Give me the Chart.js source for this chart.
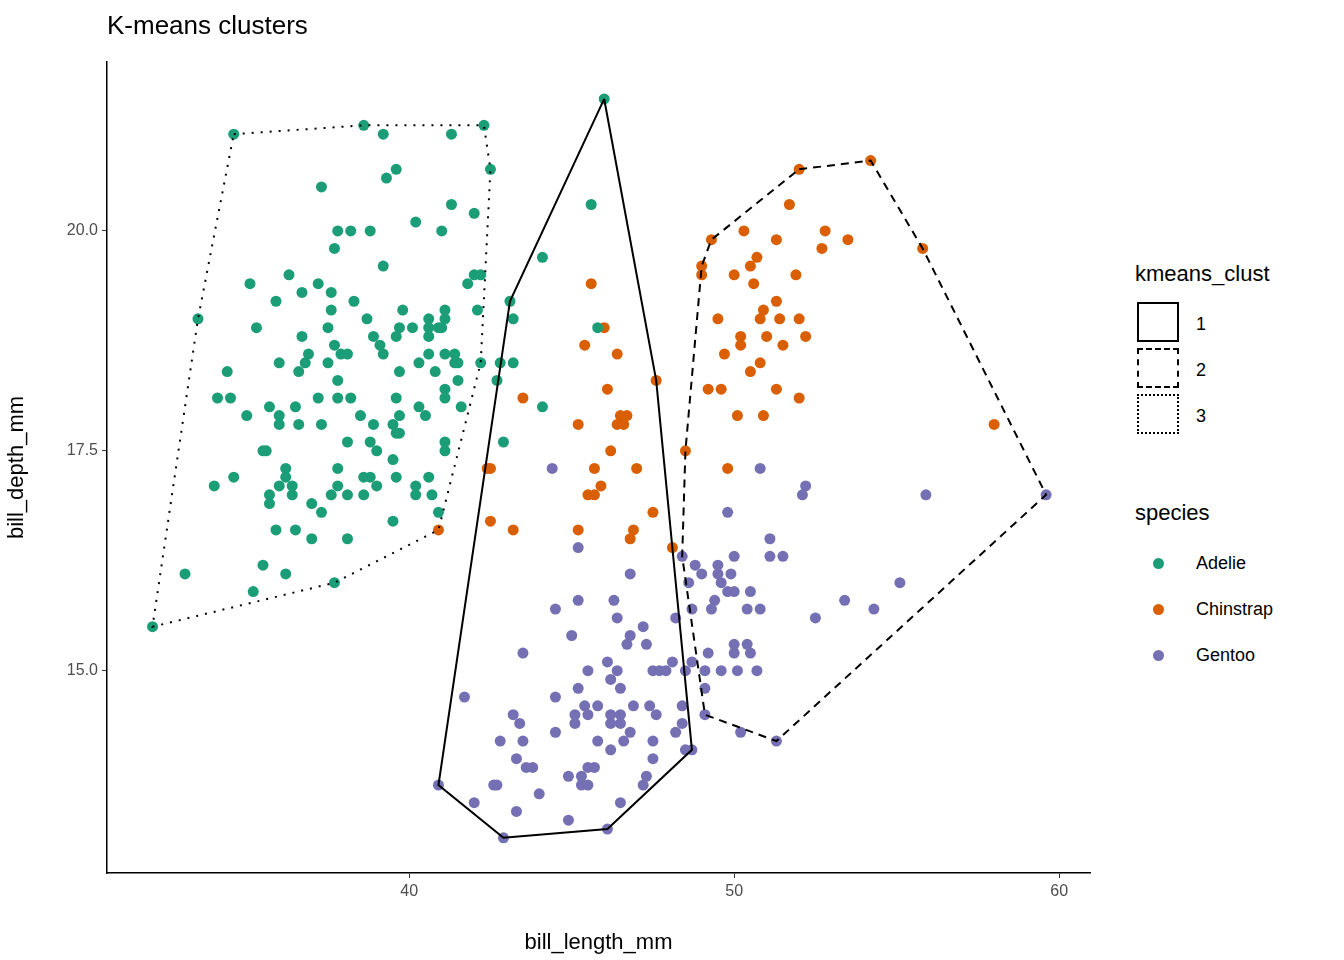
<!DOCTYPE html>
<html>
<head>
<meta charset="utf-8">
<script src="https://cdn.jsdelivr.net/npm/chart.js@4"></script>
<style>
  body { margin: 0; background: #fff; font-family: "Liberation Sans", Arial, sans-serif; }
  #wrap { position: relative; width: 1344px; height: 960px; }
  #chartBox { position: absolute; left: 0; top: 0; width: 1100px; height: 960px; }
  .title { position: absolute; left: 107px; top: 10px; font-size: 26px; color: #000; }
  .lgTitle { position: absolute; left: 1135px; font-size: 22px; color: #000; }
  .key { position: absolute; left: 1137px; width: 42px; height: 40px; box-sizing: border-box; border: 2px solid #000; }
  .lab { position: absolute; left: 1196px; font-size: 18px; color: #000; }
  .dot { position: absolute; left: 1153px; width: 11px; height: 11px; border-radius: 50%; }
</style>
</head>
<body>
<div id="wrap">
  <div id="chartBox"><canvas id="kmChart"></canvas></div>
  <div class="title">K-means clusters</div>
  <div class="lgTitle" style="top:261px">kmeans_clust</div>
  <div class="key" style="top:302px"></div>
  <div class="key" style="top:348px;border-style:dashed"></div>
  <div class="key" style="top:394px;border-style:dotted"></div>
  <div class="lab" style="top:314px">1</div>
  <div class="lab" style="top:360px">2</div>
  <div class="lab" style="top:406px">3</div>
  <div class="lgTitle" style="top:500px">species</div>
  <div class="dot" style="top:558px;background:#1B9E77"></div>
  <div class="dot" style="top:604px;background:#D95F02"></div>
  <div class="dot" style="top:650px;background:#7570B3"></div>
  <div class="lab" style="top:553px">Adelie</div>
  <div class="lab" style="top:599px">Chinstrap</div>
  <div class="lab" style="top:645px">Gentoo</div>
</div>
<script>
// bill_length_mm, bill_depth_mm
var adelie = [[34.6,21.1],[38.6,21.2],[39.2,21.1],[41.3,21.1],[42.3,21.2],[42.5,20.7],[39.6,20.7],[39.3,20.6],[37.3,20.5],[41.3,20.3],[42.0,20.2],[40.2,20.1],[37.8,20.0],[38.2,20.0],[38.8,20.0],[41.0,20.0],[37.7,19.8],[39.2,19.6],[36.3,19.5],[35.1,19.4],[37.2,19.4],[36.7,19.3],[37.6,19.3],[42.0,19.5],[42.2,19.5],[41.8,19.4],[35.9,19.2],[38.3,19.2],[37.6,19.1],[39.8,19.1],[41.1,19.1],[42.1,19.1],[33.5,19.0],[35.3,18.9],[37.5,18.9],[38.7,19.0],[39.7,18.9],[40.1,18.9],[40.6,19.0],[40.6,18.9],[40.9,18.9],[41.0,18.9],[41.1,19.0],[36.7,18.8],[38.9,18.8],[39.6,18.8],[40.6,18.8],[39.1,18.7],[37.7,18.7],[36.9,18.6],[37.9,18.6],[38.1,18.6],[39.2,18.6],[40.6,18.6],[41.1,18.6],[41.4,18.6],[36.0,18.5],[36.8,18.5],[37.5,18.5],[40.3,18.5],[41.4,18.5],[41.5,18.5],[42.2,18.5],[42.8,18.5],[43.2,18.5],[34.4,18.4],[36.6,18.4],[39.7,18.4],[40.8,18.4],[37.8,18.3],[41.5,18.3],[42.7,18.3],[41.1,18.2],[34.1,18.1],[34.5,18.1],[37.2,18.1],[37.8,18.1],[38.2,18.1],[39.6,18.1],[41.1,18.1],[35.7,18.0],[36.5,18.0],[40.3,18.0],[41.6,18.0],[35.0,17.9],[36.0,17.9],[38.5,17.9],[39.7,17.9],[40.5,17.9],[36.0,17.8],[36.6,17.8],[37.3,17.8],[38.9,17.8],[39.5,17.8],[39.6,17.7],[39.7,17.7],[38.1,17.6],[38.8,17.6],[41.1,17.6],[42.9,17.6],[35.5,17.5],[35.6,17.5],[39.0,17.5],[41.1,17.5],[39.5,17.4],[36.2,17.3],[37.8,17.3],[34.6,17.2],[36.2,17.2],[38.6,17.2],[38.8,17.2],[39.6,17.2],[40.6,17.2],[34.0,17.1],[36.0,17.1],[36.4,17.1],[37.8,17.1],[39.0,17.1],[40.2,17.1],[35.7,17.0],[36.4,17.0],[37.6,17.0],[38.1,17.0],[38.6,17.0],[40.2,17.0],[40.7,17.0],[35.7,16.9],[37.0,16.9],[37.3,16.8],[40.9,16.8],[39.5,16.7],[35.9,16.6],[36.5,16.6],[37.0,16.5],[38.1,16.5],[33.1,16.1],[35.5,16.2],[36.2,16.1],[35.2,15.9],[37.7,16.0],[32.1,15.5],[46.0,21.5],[45.6,20.3],[44.1,19.7],[43.1,19.2],[43.2,19.0],[45.8,18.9],[44.1,18.0]];
var chinstrap = [[45.6,19.4],[46.0,18.9],[45.4,18.7],[46.4,18.6],[47.6,18.3],[46.1,18.2],[43.5,18.1],[45.2,17.8],[46.5,17.9],[46.7,17.9],[46.4,17.8],[46.6,17.8],[46.2,17.5],[48.5,17.5],[42.4,17.3],[42.5,17.3],[45.7,17.3],[47.0,17.3],[45.9,17.1],[45.5,17.0],[45.7,17.0],[47.5,16.8],[42.5,16.7],[43.2,16.6],[45.2,16.6],[46.9,16.6],[46.8,16.5],[40.9,16.6],[48.1,16.4],[52.0,20.7],[54.2,20.8],[51.7,20.3],[49.3,19.9],[50.3,20.0],[51.3,19.9],[52.8,20.0],[52.7,19.8],[53.5,19.9],[55.8,19.8],[50.7,19.7],[50.5,19.6],[49.0,19.6],[49.0,19.5],[50.0,19.5],[51.9,19.5],[50.6,19.4],[51.3,19.2],[50.9,19.1],[49.5,19.0],[50.8,19.0],[51.4,19.0],[52.0,19.0],[50.2,18.8],[51.0,18.8],[52.2,18.8],[50.2,18.7],[51.5,18.7],[49.7,18.6],[50.8,18.5],[50.5,18.4],[49.2,18.2],[49.6,18.2],[51.3,18.2],[52.0,18.1],[50.1,17.9],[50.9,17.9],[58.0,17.8],[49.8,17.3]];
var gentoo = [[44.4,17.3],[45.2,16.4],[48.4,16.3],[48.8,16.2],[50.8,17.3],[52.2,17.1],[52.1,17.0],[55.9,17.0],[59.6,17.0],[49.8,16.8],[51.1,16.5],[51.1,16.3],[51.5,16.3],[50.0,16.3],[49.5,16.2],[49.0,16.1],[49.5,16.1],[49.9,16.1],[48.6,16.0],[49.6,16.0],[55.1,16.0],[49.8,15.9],[50.0,15.9],[50.5,15.9],[49.4,15.8],[53.4,15.8],[48.7,15.7],[49.3,15.7],[50.4,15.7],[50.8,15.7],[54.3,15.7],[48.2,15.6],[52.5,15.6],[50.0,15.3],[50.4,15.3],[49.2,15.2],[50.0,15.2],[50.5,15.2],[48.1,15.1],[48.7,15.1],[48.5,15.0],[49.1,15.0],[49.6,15.0],[50.1,15.0],[50.7,15.0],[49.1,14.8],[48.4,14.6],[49.1,14.5],[48.4,14.4],[48.2,14.3],[50.2,14.3],[51.3,14.2],[48.5,14.1],[48.7,14.1],[46.8,16.1],[45.2,15.8],[46.3,15.8],[44.5,15.7],[46.4,15.6],[47.2,15.5],[45.0,15.4],[46.8,15.4],[46.7,15.3],[47.3,15.3],[43.5,15.2],[46.1,15.1],[45.5,15.0],[46.4,15.0],[47.5,15.0],[47.7,15.0],[47.9,15.0],[46.2,14.9],[45.2,14.8],[46.5,14.8],[41.7,14.7],[44.5,14.7],[45.4,14.6],[45.8,14.6],[46.9,14.6],[47.4,14.6],[43.2,14.5],[45.1,14.5],[45.5,14.5],[46.2,14.5],[46.5,14.5],[47.6,14.5],[43.4,14.4],[45.1,14.4],[46.2,14.4],[46.5,14.4],[44.5,14.3],[46.8,14.3],[42.8,14.2],[43.5,14.2],[45.8,14.2],[46.6,14.2],[47.5,14.2],[46.2,14.1],[43.3,14.0],[47.5,14.0],[43.6,13.9],[43.8,13.9],[45.5,13.9],[45.7,13.9],[44.9,13.8],[45.3,13.8],[47.3,13.8],[40.9,13.7],[42.6,13.7],[42.7,13.7],[45.3,13.7],[45.5,13.7],[47.2,13.7],[44.0,13.6],[42.0,13.5],[46.5,13.5],[43.3,13.4],[44.9,13.3],[46.1,13.2],[42.9,13.1]];

// convex hull vertices per k-means cluster
var hull1 = [[46.0,21.5],[47.6,18.3],[48.7,14.1],[46.1,13.2],[42.9,13.1],[40.9,13.7],[43.1,19.2],[46.0,21.5]];
var hull2 = [[52.0,20.7],[54.2,20.8],[55.8,19.8],[59.6,17.0],[51.3,14.2],[49.1,14.5],[48.4,16.3],[48.5,17.5],[49.0,19.6],[49.3,19.9],[52.0,20.7]];
var hull3 = [[34.6,21.1],[38.6,21.2],[42.3,21.2],[42.5,20.7],[42.2,18.5],[40.9,16.6],[37.7,16.0],[32.1,15.5],[33.5,19.0],[34.6,21.1]];

var xTicks = [40, 50, 60];
var yTicks = [15, 17.5, 20];

function pts(list) {
    return list.map(function (p) { return { x: p[0], y: p[1] }; });
}
function hullSet(list, dash) {
    return { data: pts(list), showLine: true, borderColor: '#000', borderWidth: 2,
             borderDash: dash, pointRadius: 0, fill: false, tension: 0 };
}
function dotSet(list, color) {
    return { data: pts(list), backgroundColor: color, borderWidth: 0, pointRadius: 5.5 };
}

var ctx = document.getElementById('kmChart');
new Chart(ctx, {
    type: 'scatter',
    data: {
        datasets: [
            hullSet(hull1, []),
            hullSet(hull2, [8, 6]),
            hullSet(hull3, [2, 7]),
            dotSet(adelie, '#1B9E77'),
            dotSet(chinstrap, '#D95F02'),
            dotSet(gentoo, '#7570B3')
        ]
    },
    options: {
        responsive: true,
        maintainAspectRatio: false,
        animation: false,
        layout: { padding: { top: 62, right: 10, left: 0, bottom: 0 } },
        plugins: { legend: { display: false }, tooltip: { enabled: false } },
        scales: {
            x: {
                type: 'linear', min: 30.7, max: 60.95,
                afterBuildTicks: function (s) { s.ticks = xTicks.map(function (v) { return { value: v }; }); },
                afterFit: function (s) { s.height = 87; },
                ticks: { color: '#4d4d4d', font: { size: 16, family: 'Liberation Sans' }, padding: 4 },
                grid: { drawOnChartArea: false, drawTicks: true, tickLength: 5, color: '#333' },
                border: { display: true, color: '#000', width: 1.5 },
                title: { display: true, text: 'bill_length_mm', color: '#000', font: { size: 22, family: 'Liberation Sans' }, padding: { top: 2 } }
            },
            y: {
                type: 'linear', min: 12.7, max: 21.92,
                afterBuildTicks: function (s) { s.ticks = yTicks.map(function (v) { return { value: v }; }); },
                afterFit: function (s) { s.width = 107; },
                ticks: { color: '#4d4d4d', font: { size: 16, family: 'Liberation Sans' }, padding: 4,
                         callback: function (v) { return v.toFixed(1); } },
                grid: { drawOnChartArea: false, drawTicks: true, tickLength: 5, color: '#333' },
                border: { display: true, color: '#000', width: 1.5 },
                title: { display: true, text: 'bill_depth_mm', color: '#000', font: { size: 22, family: 'Liberation Sans' }, padding: { bottom: 6 } }
            }
        }
    }
});
</script>
</body>
</html>
